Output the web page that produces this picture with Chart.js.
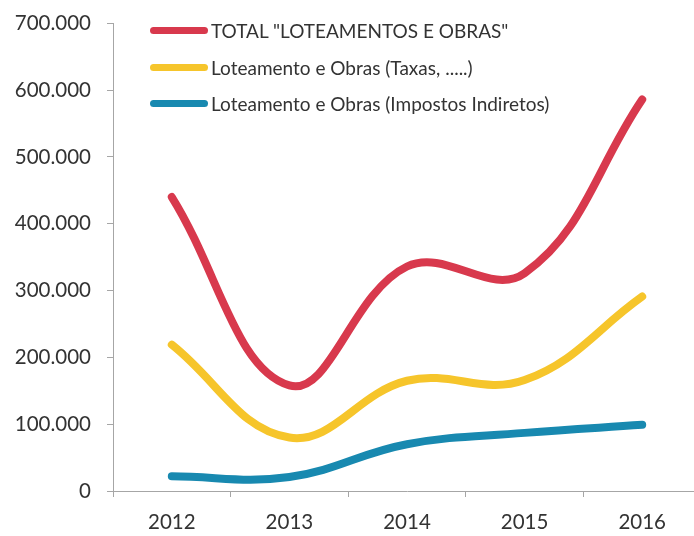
<!DOCTYPE html>
<html>
<head>
<meta charset="utf-8">
<script src="https://cdn.jsdelivr.net/npm/chart.js@4.4.1/dist/chart.umd.min.js"></script>
<style>
  html, body { margin: 0; padding: 0; background: #ffffff; overflow: hidden; width: 694px; height: 536px; }
  #wrap { position: absolute; left: 0; top: -5px; width: 703px; height: 541px; }
  #legend { position: absolute; left: 0; top: 0; font-family: Lato, "Open Sans", sans-serif; font-size: 19px; color: #333; }
  .item { position: absolute; left: 150px; height: 22px; display: flex; align-items: center; white-space: nowrap; }
  .swatch { width: 58px; height: 7px; border-radius: 4px; margin-right: 3px; }
</style>
</head>
<body>
<div id="wrap"><canvas id="c"></canvas></div>
<div id="legend"></div>
<script>
const categories = ['2012', '2013', '2014', '2015', '2016'];
const seriesNames = ['TOTAL "LOTEAMENTOS E OBRAS"', 'Loteamento e Obras (Taxas, .....)', 'Loteamento e Obras (Impostos Indiretos)'];
const totalValues = [440000, 158000, 336000, 326000, 586000];
const taxasValues = [219000, 80000, 165000, 166000, 291000];
const impostosValues = [22000, 21000, 70000, 87000, 99000];
const yTickLabels = ['0', '100.000', '200.000', '300.000', '400.000', '500.000', '600.000', '700.000'];
const colors = ['#d8394d', '#f6c52b', '#1889b0'];

const allSeries = [totalValues, taxasValues, impostosValues];
const datasets = allSeries.map((vals, i) => ({
  label: seriesNames[i],
  data: vals,
  borderColor: colors[i],
  backgroundColor: colors[i],
  borderWidth: 8,
  borderCapStyle: 'round',
  borderJoinStyle: 'round',
  pointRadius: 0,
  pointHoverRadius: 0,
  tension: 0.4,
  fill: false
}));

const axisColor = '#a6a6a6';
const tickFont = { family: 'Lato, "Open Sans", sans-serif', size: 20.5 };

new Chart(document.getElementById('c'), {
  type: 'line',
  data: { labels: categories, datasets: datasets },
  options: {
    responsive: true,
    maintainAspectRatio: false,
    animation: false,
    layout: { padding: { top: 8, right: 2, left: 0, bottom: 0 } },
    plugins: { legend: { display: false }, tooltip: { enabled: false } },
    scales: {
      x: {
        offset: true,
        grid: { display: true, drawOnChartArea: false, drawTicks: true, tickLength: 6, color: axisColor, offset: true },
        border: { display: true, color: axisColor, width: 1 },
        ticks: { color: '#333', font: tickFont, padding: 13, maxRotation: 0 },
        afterFit: (s) => { s.height = 45; }
      },
      y: {
        min: 0,
        max: 700000,
        grid: { display: true, drawOnChartArea: false, drawTicks: true, tickLength: 6, color: axisColor },
        border: { display: true, color: axisColor, width: 1 },
        ticks: {
          stepSize: 100000,
          color: '#333',
          font: tickFont,
          padding: 16,
          callback: (v) => yTickLabels[Math.round(v / 100000)]
        },
        afterFit: (s) => { s.width = 113; }
      }
    }
  }
});

const legend = document.getElementById('legend');
const rowCenters = [30, 67, 103];
seriesNames.forEach((name, i) => {
  const item = document.createElement('div');
  item.className = 'item';
  item.style.top = (rowCenters[i] - 11) + 'px';
  const sw = document.createElement('span');
  sw.className = 'swatch';
  sw.style.background = colors[i];
  const tx = document.createElement('span');
  tx.textContent = name;
  item.appendChild(sw);
  item.appendChild(tx);
  legend.appendChild(item);
});
</script>
</body>
</html>
